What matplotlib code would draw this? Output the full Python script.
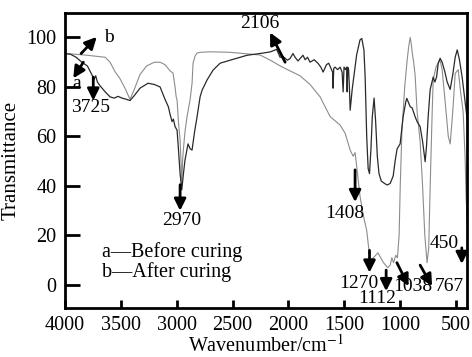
import matplotlib
matplotlib.use("Agg")
import matplotlib.pyplot as plt
import numpy as np

plt.rcParams['font.family'] = ['Liberation Serif', 'DejaVu Serif']
plt.rcParams['mathtext.fontset'] = 'stix'

# Curve a: before curing (dark)
wn_a = [4000, 3950, 3900, 3850, 3800, 3760, 3740, 3725, 3710, 3687, 3640, 3597, 3560, 3525,
        3490, 3450, 3418, 3380, 3329, 3257, 3200, 3149, 3105, 3075, 3060, 3042, 3030, 3015,
        2997, 2985, 2970, 2955, 2940, 2926, 2899, 2880, 2863, 2840, 2818, 2791, 2773, 2729,
        2675, 2612, 2523, 2371, 2227, 2160, 2138, 2106, 2075, 2048, 2010, 1986, 1960, 1941,
        1915, 1896, 1870, 1851, 1830, 1807, 1770, 1735, 1710, 1690, 1660, 1640, 1615, 1605,
        1601, 1595, 1583, 1560, 1538, 1520, 1511, 1503, 1490, 1480, 1475, 1470, 1462, 1455,
        1448, 1430, 1410, 1390, 1360, 1344, 1325, 1314, 1300, 1287, 1275, 1262, 1250, 1234,
        1220, 1205, 1190, 1170, 1140, 1117, 1090, 1063, 1046, 1028, 1001, 974, 950, 941,
        920, 910, 893, 867, 849, 822, 800, 777, 765, 750, 732, 705, 690, 675, 660, 643, 625,
        600, 580, 553, 530, 508, 490, 470, 446, 420, 400]
t_a = [93.5, 93.2, 92.0, 90.0, 88.5, 85.0, 83.0, 84.5, 82.0, 80.5, 78.0, 76.0, 75.5, 76.2,
       75.5, 75.0, 74.5, 76.5, 79.5, 81.5, 81.0, 80.0, 75.0, 72.0, 69.0, 66.0, 67.0, 64.0,
       62.5, 55.0, 45.0, 38.4, 45.0, 50.5, 57.0, 55.0, 54.5, 62.0, 68.0, 76.0, 78.7, 82.8,
       86.8, 89.6, 90.8, 92.8, 93.7, 94.2, 94.6, 95.2, 92.0, 92.3, 90.8, 91.5, 93.5, 92.0,
       90.5, 91.5, 92.8, 91.0, 92.0, 90.0, 91.0, 89.5, 88.0, 86.0, 89.0, 89.6, 87.0, 86.0,
       79.5, 87.5, 88.0, 87.0, 88.0, 86.0, 78.0, 88.0, 87.0, 88.0, 78.0, 88.0, 87.0, 80.0,
       70.6, 79.0, 86.0, 93.0, 99.0, 99.6, 95.0, 84.0, 60.0, 47.0, 45.0, 55.0, 68.0, 75.5,
       66.0, 52.0, 45.0, 42.0, 41.0, 40.4, 41.0, 44.0, 50.0, 55.0, 57.0, 68.0, 74.0, 75.4,
       73.0, 72.0, 71.5, 68.0, 66.0, 64.0, 58.0, 49.8, 56.0, 68.0, 79.0, 84.0, 82.0, 84.0,
       89.6, 91.6, 90.0, 86.0, 82.0, 79.0, 85.0, 92.0, 95.0, 91.0, 84.0, 74.0, 66.6]

# Curve b: after curing (grey)
wn_b = [4000, 3900, 3800, 3700, 3640, 3597, 3550, 3510, 3463, 3418, 3380, 3329, 3270, 3200,
        3149, 3105, 3060, 3033, 3015, 3005, 2997, 2985, 2970, 2960, 2955, 2948, 2940, 2926,
        2908, 2880, 2863, 2854, 2836, 2818, 2791, 2700, 2523, 2400, 2254, 2150, 2075, 1986,
        1896, 1807, 1717, 1627, 1538, 1493, 1448, 1421, 1404, 1390, 1359, 1330, 1300, 1270,
        1240, 1200, 1150, 1112, 1090, 1075, 1060, 1040, 1025, 1010, 1000, 985, 960, 940, 925,
        911, 900, 893, 880, 867, 849, 822, 800, 780, 760, 745, 732, 714, 705, 680, 645, 625,
        600, 570, 553, 530, 508, 481, 460, 437, 420, 410, 400]
t_b = [93.5, 93.2, 92.8, 92.3, 92.0, 90.0, 86.0, 83.5, 79.5, 75.0, 79.0, 85.0, 88.5, 90.0,
       90.0, 89.0, 86.5, 85.6, 80.0, 76.0, 74.7, 66.0, 58.5, 48.0, 41.0, 50.0, 55.0, 62.0,
       68.0, 75.0, 81.5, 89.6, 92.5, 93.7, 94.0, 94.2, 94.0, 93.5, 92.9, 90.5, 88.5, 86.5,
       84.5, 81.0, 76.0, 68.0, 64.6, 61.3, 54.5, 52.0, 53.5, 48.0, 35.6, 28.0, 22.0, 10.0,
       11.0, 13.0, 9.0, 7.0, 8.0, 11.0, 9.0, 12.0, 11.0, 20.0, 40.0, 62.0, 80.0, 90.0, 96.0,
       100.0, 97.0, 94.0, 90.0, 85.0, 70.0, 58.0, 40.0, 20.0, 9.0, 15.0, 40.0, 70.0, 83.0,
       88.0, 91.0, 87.0, 75.0, 60.0, 57.0, 70.0, 85.5, 87.0, 78.0, 70.0, 52.0, 35.0, 25.0]

# Peak annotations: label, arrow tail (wn, T) -> head (wn, T), label pos (wn, T)
peak_labels = ['3725', '2970', '2106', '1408', '1270', '1112', '1038', '767', '450']
arrows = [((3747, 84), (3747, 74.5)),
          ((2970, 40.5), (2970, 30)),
          ((2030, 90), (2165, 102)),
          ((1404, 46.5), (1404, 33.5)),
          ((1275, 14), (1275, 5)),
          ((1126, 6), (1126, -2.5)),
          ((1030, 9), (925, -0.5)),
          ((822, 8), (715, -0.5)),
          ((449, 15), (449, 8.5))]
label_pos = [(3767, 71.5), (2955, 26.2), (2254, 105.5), (1493, 29), (1368, 0.5),
             (1210, -5.5), (884, -0.8), (562, -0.8), (607, 16.8)]

fig = plt.figure(figsize=(4.72, 3.57), dpi=100)
ax = fig.add_axes([0.1377, 0.138, 0.8523, 0.8264])

ax.plot(wn_b, t_b, color='#8c8c8c', lw=0.8)
ax.plot(wn_a, t_a, color='#2a2a2a', lw=0.9)

ax.set_xlim(4000, 400)
ax.set_ylim(-9.2, 110)
ax.set_xticks([4000, 3500, 3000, 2500, 2000, 1500, 1000, 500])
ax.set_yticks([0, 20, 40, 60, 80, 100])
ax.tick_params(axis='both', direction='in', labelsize=14.5, width=2, colors='k')
ax.tick_params(axis='y', length=11, pad=6)
ax.tick_params(axis='x', length=6, pad=6)
for s in ax.spines.values():
    s.set_linewidth(2)

ax.set_xlabel('Wavenumber/cm$^{-1}$', fontsize=14.5, labelpad=0)
ax.set_ylabel('Transmittance', fontsize=15, labelpad=4)

aprops = dict(arrowstyle='-|>,head_length=0.7,head_width=0.35', lw=2, color='k',
              mutation_scale=10, shrinkA=0, shrinkB=0)
for lab, (tail, head), pos in zip(peak_labels, arrows, label_pos):
    ax.annotate('', xy=head, xytext=tail, arrowprops=aprops)
    ax.text(pos[0], pos[1], lab, fontsize=14, ha='center', va='center')

# curve identifiers
ax.annotate('', xy=(3716, 100.2), xytext=(3856, 93.5), arrowprops=aprops)
ax.text(3650, 100, 'b', fontsize=14, ha='left', va='center')
ax.annotate('', xy=(3926, 83.5), xytext=(3836, 90), arrowprops=aprops)
ax.text(3930, 81.4, 'a', fontsize=14, ha='left', va='center')

ax.text(3672, 13.4, 'a\u2014Before curing', fontsize=14.5, ha='left', va='center')
ax.text(3672, 5.4, 'b\u2014After curing', fontsize=14.5, ha='left', va='center')

fig.savefig('out.png', dpi=100)
